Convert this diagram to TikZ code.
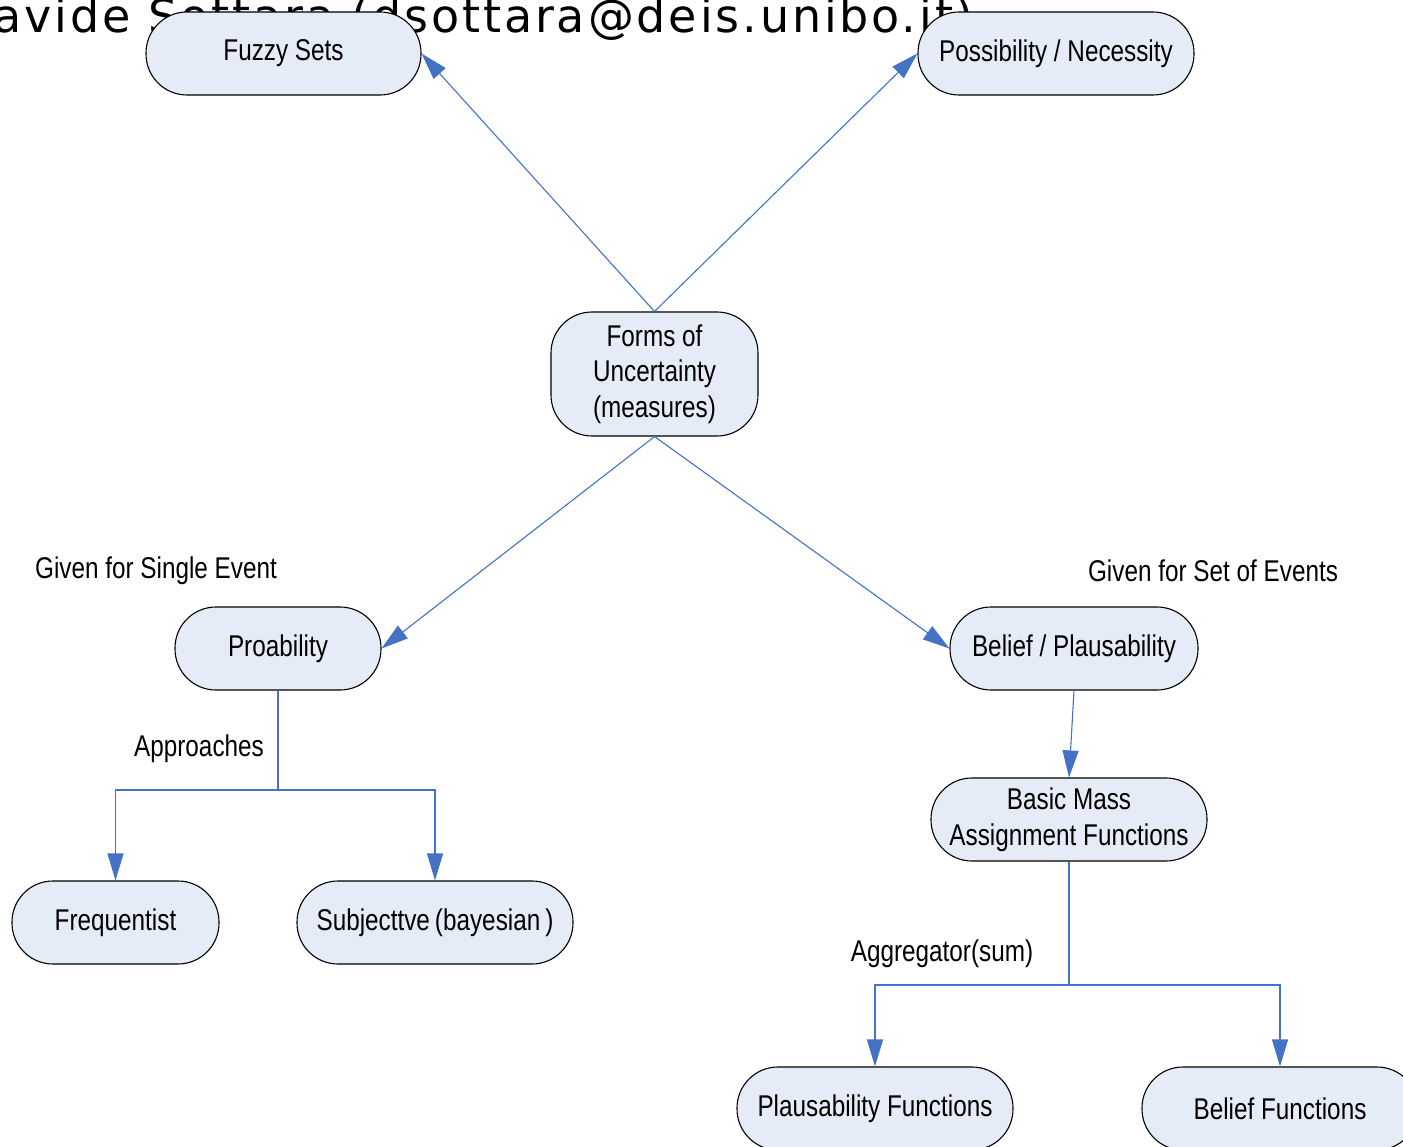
\documentclass[tikz,border=0pt]{standalone}
\usepackage{fontspec}
\setmainfont{Liberation Sans}[FakeStretch=0.81]
\newfontfamily\headfont{DejaVu Sans}[LetterSpace=6.2]
\usetikzlibrary{arrows.meta}
\definecolor{linkblue}{HTML}{4472C4}
\definecolor{boxfill}{HTML}{E6ECF7}
\begin{document}
\begin{tikzpicture}[x=1pt,y=-1pt,
  box/.style={draw=black,line width=1.1pt,fill=boxfill,rounded corners=41pt,
    inner sep=0pt,minimum height=83pt,align=center,
    font=\fontsize{30}{35.5}\selectfont},
  lbl/.style={inner sep=0pt,font=\fontsize{30}{35.5}\selectfont},
  link/.style={draw=linkblue,line width=1.1pt},
  arr/.style={link,-{Triangle[length=27pt,width=16pt]}}]
\useasboundingbox (0,0) rectangle (1403,1147);
\clip (0,0) rectangle (1403,1147);
\fill[white] (0,0) rectangle (1403,1147);

% author line at the top, partly hidden by the boxes
\node[anchor=base east,inner sep=0pt,font=\headfont\fontsize{46}{55}\selectfont]
  (author) at (974,33) {Davide Sottara (dsottara@deis.unibo.it)};

% boxes
\node[box,minimum width=275pt] (fuzzy) at (283.5,53.5) {Fuzzy Sets};
\node[box,minimum width=276pt] (poss) at (1056,53.5) {Possibility / Necessity};
\node[box,minimum width=207pt,minimum height=124pt] (forms) at (654.5,374)
  {Forms of\\Uncertainty\\(measures)};
\node[box,minimum width=206pt] (prob) at (278,648.5) {Proability};
\node[box,minimum width=248pt] (belpl) at (1074,648.5) {Belief / Plausability};
\node[box,minimum width=276pt] (bmass) at (1069,819.5) {Basic Mass\\Assignment Functions};
\node[box,minimum width=207pt] (freq) at (115.5,922.5) {Frequentist};
\node[box,minimum width=276pt] (subj) at (435,922.5) {Subjecttve\,(bayesian\,)};
\node[box,minimum width=276pt] (plfun) at (875,1108.5) {Plausability Functions};
\node[box,minimum width=276pt] (belfun) at (1280,1108.5) {Belief Functions};

% free labels
\node[lbl] (single) at (156,571) {Given for Single Event};
\node[lbl] (setev) at (1213,571) {Given for Set of Events};
\node[lbl] (appr) at (199,749) {Approaches};
\node[lbl] (aggr) at (942,954) {Aggregator(sum)};

% connectors from the central box
\draw[arr] (forms.north) -- (fuzzy.east);
\draw[arr] (forms.north) -- (poss.west);
\draw[arr] (forms.south) -- (prob.east);
\draw[arr] (forms.south) -- (belpl.west);
\draw[arr] (belpl.south) -- (bmass.north);

% probability approaches
\coordinate (pj) at (278,790);
\draw[link] (prob.south) -- (pj);
\draw[arr] (pj) -| (freq.north);
\draw[arr] (pj) -| (subj.north);

% aggregation of mass assignments
\coordinate (bj) at (1069,985);
\draw[link] (bmass.south) -- (bj);
\draw[arr] (bj) -| (plfun.north);
\draw[arr] (bj) -| (belfun.north);
\end{tikzpicture}
\end{document}
